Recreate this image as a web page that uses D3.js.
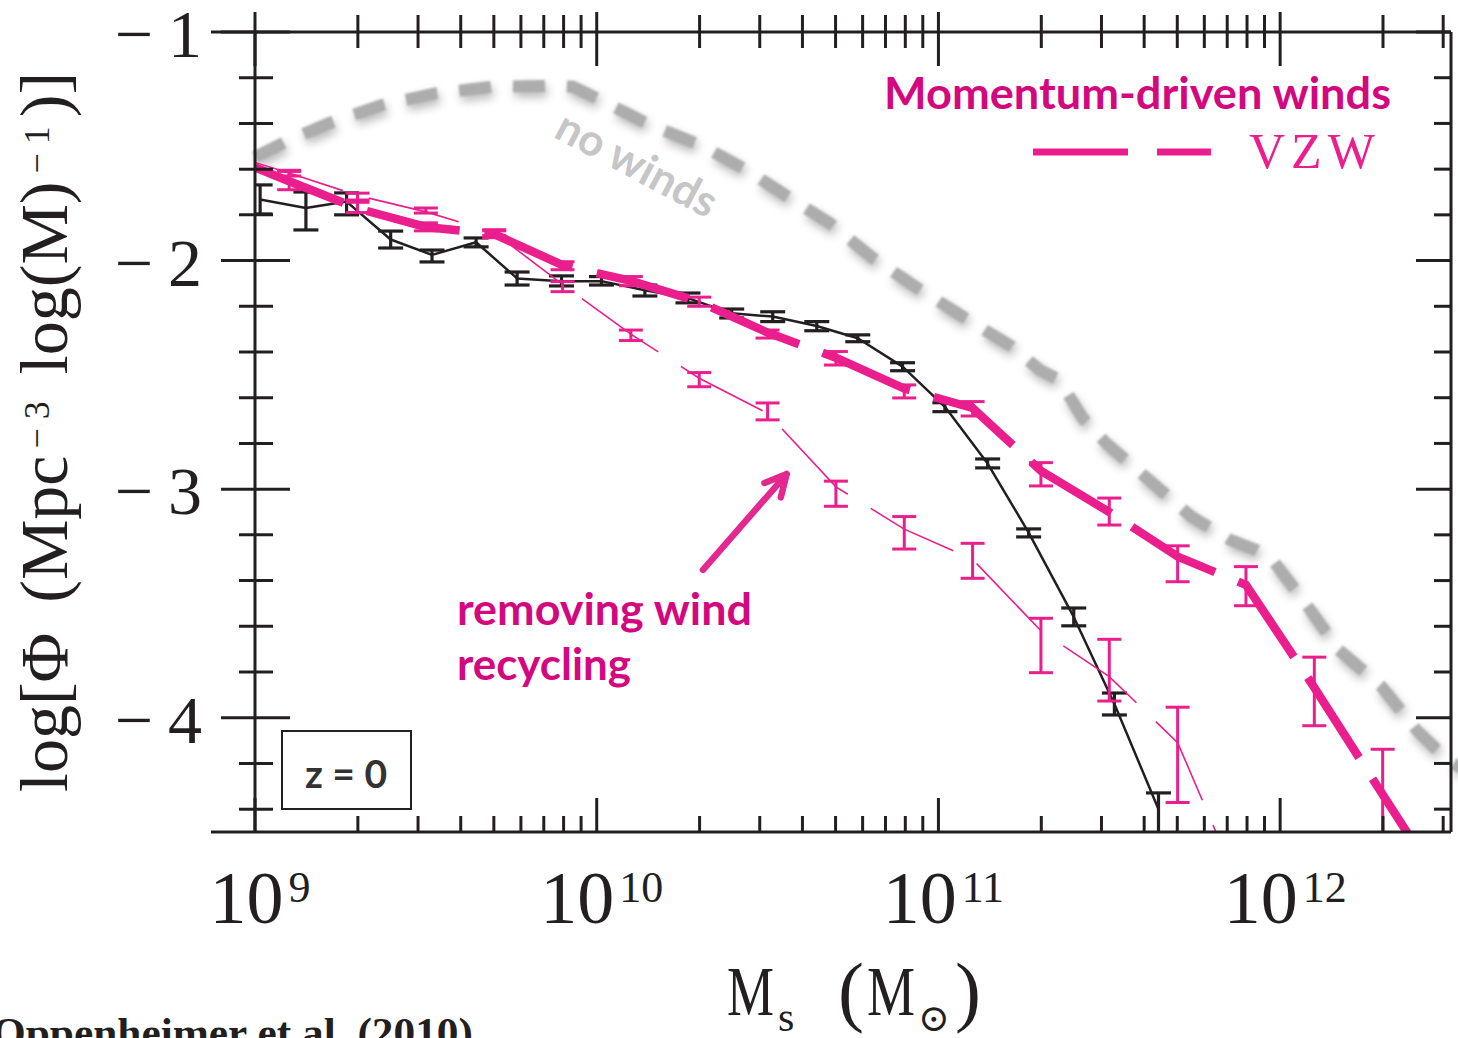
<!DOCTYPE html>
<html>
<head>
<meta charset="utf-8">
<script src="https://cdn.jsdelivr.net/npm/d3@7"></script>
<style>
  body { margin: 0; background: #ffffff; }
  svg { display: block; }
</style>
</head>
<body>
<svg id="chart" width="1458" height="1038"></svg>
<script>
// ---- Galaxy stellar mass function at z = 0 (log10 of stellar mass, log10 of phi) ----

// "no winds" run
const massNoWind = [9.0, 9.102, 9.219, 9.374, 9.532, 9.696, 9.863, 9.930, 10.009, 10.156, 10.302, 10.439,
  10.565, 10.682, 10.808, 10.925, 11.071, 11.215, 11.297, 11.354, 11.422, 11.490, 11.616, 11.740,
  11.853, 11.928, 11.978, 12.081, 12.171, 12.297, 12.399, 12.490, 12.53];
const phiNoWind = [-1.547, -1.472, -1.398, -1.319, -1.268, -1.239, -1.236, -1.239, -1.297, -1.407, -1.494, -1.604,
  -1.727, -1.836, -1.989, -2.107, -2.245, -2.377, -2.479, -2.523, -2.689, -2.798, -2.960, -3.120,
  -3.222, -3.266, -3.310, -3.514, -3.703, -3.864, -4.054, -4.185, -4.22];

// observed mass function (black)
const massObs = [9.015, 9.149, 9.268, 9.397, 9.518, 9.647, 9.767, 9.897, 10.014, 10.141, 10.267,
  10.395, 10.515, 10.644, 10.764, 10.895, 11.019, 11.144, 11.264, 11.396, 11.515, 11.644];
const phiObs = [-1.733, -1.770, -1.742, -1.908, -1.975, -1.920, -2.078, -2.090, -2.090, -2.130, -2.164,
  -2.231, -2.245, -2.286, -2.340, -2.464, -2.640, -2.888, -3.190, -3.559, -3.940, -4.400];
const phiObsHi = [-1.669, -1.700, -1.704, -1.871, -1.954, -1.901, -2.050, -2.067, -2.070, -2.107, -2.142,
  -2.212, -2.224, -2.267, -2.325, -2.447, -2.622, -2.868, -3.174, -3.520, -3.892, -4.329];
const phiObsLo = [-1.796, -1.866, -1.800, -1.945, -2.006, -1.940, -2.107, -2.111, -2.107, -2.155, -2.185,
  -2.251, -2.267, -2.307, -2.355, -2.482, -2.661, -2.907, -3.209, -3.598, -3.988, -6.0];

// momentum-driven winds (vzw)
const massVzw = [8.9, 9.1, 9.3, 9.5, 9.7, 9.9, 10.1, 10.3, 10.5, 10.7, 10.9, 11.1, 11.3, 11.5, 11.7,
  11.9, 12.1, 12.3, 12.5];
const phiVzw = [-1.532, -1.653, -1.772, -1.853, -1.884, -2.020, -2.089, -2.180, -2.315, -2.425, -2.560,
  -2.645, -2.920, -3.100, -3.295, -3.419, -3.868, -4.336, -4.800];
const phiVzwHi = [null, -1.610, -1.745, -1.835, -1.870, -2.005, -2.070, -2.160, -2.304, -2.398, -2.544,
  -2.617, -2.884, -3.039, -3.248, -3.339, -3.735, -4.138, null];
const phiVzwLo = [null, -1.690, -1.790, -1.870, -1.900, -2.040, -2.110, -2.200, -2.339, -2.457, -2.601,
  -2.680, -2.986, -3.157, -3.405, -3.510, -4.035, -6.0, null];

// vzw without wind recycling
const massNoRecyc = [8.9, 9.1, 9.3, 9.5, 9.7, 9.9, 10.1, 10.3, 10.5, 10.7, 10.9, 11.1, 11.3, 11.5, 11.7, 11.9];
const phiNoRecyc = [-1.525, -1.617, -1.715, -1.787, -1.877, -2.105, -2.322, -2.515, -2.668, -2.990, -3.175,
  -3.307, -3.620, -3.820, -4.109, -4.806];
const phiNoRecycHi = [null, -1.605, -1.705, -1.770, -1.865, -2.092, -2.304, -2.490, -2.623, -2.965, -3.120,
  -3.237, -3.565, -3.657, -3.954, null];
const phiNoRecycLo = [null, -1.630, -1.735, -1.792, -1.890, -2.136, -2.350, -2.552, -2.697, -3.075, -3.262,
  -3.390, -3.803, -3.927, -4.371, null];

// axis ticks
const xMajorTicks = [9, 10, 11, 12];
const xTickExponents = ["9", "10", "11", "12"];
const xMinorMantissas = [2, 3, 4, 5, 6, 7, 8, 9];
const yMajorTicks = [-1, -2, -3, -4];
const yTickLabels = ["1", "2", "3", "4"];
const yMinorTicks = [-1.2, -1.4, -1.6, -1.8, -2.2, -2.4, -2.6, -2.8, -3.2, -3.4, -3.6, -3.8, -4.2, -4.4];

// annotation anchors (data coordinates)
const arrowTail = [10.311, -3.353];
const arrowTip = [10.556, -2.934];

// ---- drawing ----
const svg = d3.select("#chart");
const ink = "#231f20";
const pink = "#ea1e8d";
const pinkText = "#d4087e";

const x = d3.scaleLinear().domain([9, 12.5]).range([255, 1451]);
const y = d3.scaleLinear().domain([-1, -4.5]).range([32, 832]);

const defs = svg.append("defs");
defs.append("clipPath").attr("id", "plotClip")
  .append("rect")
  .attr("x", x(9)).attr("y", y(-1))
  .attr("width", x(12.5) - x(9)).attr("height", y(-4.5) - y(-1));

// soft halo for the no-wind curve
const soft = defs.append("filter").attr("id", "soft")
  .attr("filterUnits", "userSpaceOnUse")
  .attr("x", 0).attr("y", 0).attr("width", 1458).attr("height", 1038);
soft.append("feGaussianBlur").attr("in", "SourceGraphic").attr("stdDeviation", 5).attr("result", "blur");
soft.append("feOffset").attr("in", "blur").attr("dx", 2).attr("dy", 5).attr("result", "off");
soft.append("feComponentTransfer").attr("in", "off").attr("result", "shadow")
  .append("feFuncA").attr("type", "linear").attr("slope", 0.85);
soft.append("feGaussianBlur").attr("in", "SourceGraphic").attr("stdDeviation", 0.9).attr("result", "core");
const merge = soft.append("feMerge");
merge.append("feMergeNode").attr("in", "shadow");
merge.append("feMergeNode").attr("in", "core");

const line = d3.line().x(d => x(d[0])).y(d => y(d[1]));
const pairs = (xs, ys) => xs.map((m, i) => [m, ys[i]]);

// no-wind curve
svg.append("path")
  .datum(pairs(massNoWind, phiNoWind))
  .attr("d", line)
  .attr("fill", "none")
  .attr("stroke", "#adadad")
  .attr("stroke-width", 12)
  .attr("stroke-dasharray", "32,22")
  .attr("filter", "url(#soft)");

svg.append("text")
  .attr("transform", "translate(636,166) rotate(28)")
  .attr("text-anchor", "middle")
  .attr("dy", "0.3em")
  .attr("font-family", "Lato")
  .attr("font-weight", "bold")
  .attr("font-size", 44)
  .attr("fill", "#c6c6c6")
  .text("no winds");

const plot = svg.append("g").attr("clip-path", "url(#plotClip)");

function errorBars(g, xs, hi, lo, color, width, capHalf) {
  const gg = g.append("g").attr("stroke", color).attr("stroke-width", width);
  xs.forEach((m, i) => {
    if (hi[i] == null || lo[i] == null) return;
    const px = x(m), y1 = y(hi[i]), y2 = y(lo[i]);
    gg.append("line").attr("x1", px).attr("x2", px).attr("y1", y1).attr("y2", y2);
    gg.append("line").attr("x1", px - capHalf).attr("x2", px + capHalf).attr("y1", y1).attr("y2", y1);
    gg.append("line").attr("x1", px - capHalf).attr("x2", px + capHalf).attr("y1", y2).attr("y2", y2);
  });
}

// observed
plot.append("path")
  .datum(pairs(massObs, phiObs))
  .attr("d", line)
  .attr("fill", "none")
  .attr("stroke", ink)
  .attr("stroke-width", 2.5)
  .attr("stroke-linejoin", "round");
errorBars(plot, massObs, phiObsHi, phiObsLo, ink, 3.2, 12.5);

// no recycling
plot.append("path")
  .datum(pairs(massNoRecyc, phiNoRecyc))
  .attr("d", line)
  .attr("fill", "none")
  .attr("stroke", pink)
  .attr("stroke-width", 1.6)
  .attr("stroke-dasharray", "93,27")
  .attr("stroke-dashoffset", 85);
errorBars(plot, massNoRecyc, phiNoRecycHi, phiNoRecycLo, pink, 3, 12);

// vzw
plot.append("path")
  .datum(pairs(massVzw, phiVzw))
  .attr("d", line)
  .attr("fill", "none")
  .attr("stroke", pink)
  .attr("stroke-width", 8.5)
  .attr("stroke-dasharray", "95,25")
  .attr("stroke-dashoffset", 83);
errorBars(plot, massVzw, phiVzwHi, phiVzwLo, pink, 3, 12);

// ---- frame and ticks ----
const axes = svg.append("g").attr("stroke", ink).attr("stroke-width", 3).attr("fill", "none");
axes.append("line").attr("x1", 211).attr("x2", x(12.5)).attr("y1", y(-1)).attr("y2", y(-1));
axes.append("line").attr("x1", 211).attr("x2", x(12.5)).attr("y1", y(-4.5)).attr("y2", y(-4.5));
axes.append("line").attr("x1", x(9)).attr("x2", x(9)).attr("y1", y(-1)).attr("y2", y(-4.5));
axes.append("line").attr("x1", x(12.5)).attr("x2", x(12.5)).attr("y1", y(-1)).attr("y2", y(-4.5));

const xMinor = [];
xMajorTicks.forEach(d => xMinorMantissas.forEach(k => {
  const v = d + Math.log10(k);
  if (v < 12.5) xMinor.push(v);
}));

const top0 = y(-1), bot0 = y(-4.5);
axes.selectAll(".xmt").data(xMinor).join("line")
  .attr("x1", d => x(d)).attr("x2", d => x(d)).attr("y1", top0 - 17).attr("y2", top0 + 16);
axes.selectAll(".xMt").data(xMajorTicks).join("line")
  .attr("x1", d => x(d)).attr("x2", d => x(d)).attr("y1", top0 - 20).attr("y2", top0 + 34);
axes.selectAll(".xmb").data(xMinor).join("line")
  .attr("x1", d => x(d)).attr("x2", d => x(d)).attr("y1", bot0 - 16).attr("y2", bot0);
axes.selectAll(".xMb").data(xMajorTicks).join("line")
  .attr("x1", d => x(d)).attr("x2", d => x(d)).attr("y1", bot0 - 34).attr("y2", bot0);

const left0 = x(9), right0 = x(12.5);
axes.selectAll(".yml").data(yMinorTicks).join("line")
  .attr("x1", left0 - 16).attr("x2", left0 + 18).attr("y1", d => y(d)).attr("y2", d => y(d));
axes.selectAll(".yMl").data(yMajorTicks).join("line")
  .attr("x1", left0 - 34).attr("x2", left0 + 35).attr("y1", d => y(d)).attr("y2", d => y(d));
axes.selectAll(".ymr").data(yMinorTicks).join("line")
  .attr("x1", right0 - 17).attr("x2", right0).attr("y1", d => y(d)).attr("y2", d => y(d));
axes.selectAll(".yMr").data(yMajorTicks).join("line")
  .attr("x1", right0 - 35).attr("x2", right0).attr("y1", d => y(d)).attr("y2", d => y(d));

// ---- tick labels ----
const serif = "'Liberation Serif', 'DejaVu Serif', serif";
const yl = svg.append("g").attr("font-family", serif).attr("fill", ink).attr("font-size", 68);
yMajorTicks.forEach((v, i) => {
  const t = yl.append("text").attr("y", y(v) + 25);
  t.append("tspan").attr("x", 134).attr("text-anchor", "middle").text("\u2212");
  t.append("tspan").attr("x", 185).attr("text-anchor", "middle").text(yTickLabels[i]);
});

const xl = svg.append("g").attr("font-family", serif).attr("fill", ink).attr("text-anchor", "middle");
xMajorTicks.forEach((v, i) => {
  const t = xl.append("text").attr("x", x(v) + 5).attr("y", 923).attr("font-size", 74);
  t.append("tspan").text("10");
  t.append("tspan").attr("font-size", 44).attr("dx", 5).attr("dy", -21).text(xTickExponents[i]);
});

// ---- axis titles ----
const xt = svg.append("text").attr("font-family", serif).attr("fill", ink).attr("y", 1015);
xt.append("tspan").attr("x", 727).attr("y", 1015).attr("font-size", 70)
  .attr("textLength", 47).attr("lengthAdjust", "spacingAndGlyphs").text("M");
xt.append("tspan").attr("x", 778).attr("y", 1031).attr("font-size", 42).text("s");
xt.append("tspan").attr("x", 838).attr("y", 1017).attr("font-size", 78).text("(");
xt.append("tspan").attr("x", 867).attr("y", 1015).attr("font-size", 70)
  .attr("textLength", 48).attr("lengthAdjust", "spacingAndGlyphs").text("M");
xt.append("tspan").attr("x", 918).attr("y", 1031).attr("font-size", 38).text("\u2299");
xt.append("tspan").attr("x", 955).attr("y", 1017).attr("font-size", 78).text(")");

const yt = svg.append("text").attr("font-family", serif).attr("fill", ink)
  .attr("transform", "translate(67,792) rotate(-90)").attr("font-size", 68);
yt.append("tspan").text("log[\u03A6");
yt.append("tspan").attr("dx", 30).text("(Mpc");
yt.append("tspan").attr("font-size", 36).attr("dy", -18).attr("dx", 7).text("\u2212 3");
yt.append("tspan").attr("dy", 18).attr("dx", 27).text("log(M)");
yt.append("tspan").attr("font-size", 36).attr("dy", -18).attr("dx", 8).text("\u2212 1");
yt.append("tspan").attr("dy", 18).attr("dx", 9).text(")]");

// ---- legend ----
svg.append("text")
  .attr("x", 884).attr("y", 109)
  .attr("textLength", 507).attr("lengthAdjust", "spacingAndGlyphs")
  .attr("font-family", "Lato").attr("font-weight", "bold").attr("font-size", 43)
  .attr("fill", pinkText)
  .text("Momentum-driven winds");

svg.append("line")
  .attr("x1", 1033).attr("x2", 1211).attr("y1", 152).attr("y2", 152)
  .attr("stroke", pink).attr("stroke-width", 7).attr("stroke-dasharray", "95,29");

svg.append("text")
  .attr("x", 1249).attr("y", 168)
  .attr("font-family", serif).attr("font-size", 50).attr("letter-spacing", 6)
  .attr("fill", pink)
  .text("VZW");

// ---- annotations ----
const ann = svg.append("text").attr("font-family", "Lato").attr("font-weight", "bold")
  .attr("font-size", 44).attr("fill", pinkText);
ann.append("tspan").attr("x", 457).attr("y", 625)
  .attr("textLength", 295).attr("lengthAdjust", "spacingAndGlyphs").text("removing wind");
ann.append("tspan").attr("x", 457).attr("y", 680)
  .attr("textLength", 174).attr("lengthAdjust", "spacingAndGlyphs").text("recycling");

const tx = x(arrowTail[0]), ty = y(arrowTail[1]), hx = x(arrowTip[0]), hy = y(arrowTip[1]);
const ang = Math.atan2(ty - hy, tx - hx);
const wing = 24, spread = 27 * Math.PI / 180;
const w1 = [hx + wing * Math.cos(ang - spread), hy + wing * Math.sin(ang - spread)];
const w2 = [hx + wing * Math.cos(ang + spread), hy + wing * Math.sin(ang + spread)];
svg.append("path")
  .attr("d", `M${tx},${ty}L${hx},${hy}M${w1[0]},${w1[1]}L${hx},${hy}L${w2[0]},${w2[1]}`)
  .attr("fill", "none").attr("stroke", "#e3288f").attr("stroke-width", 6.5)
  .attr("stroke-linecap", "round").attr("stroke-linejoin", "round");

// redshift box
svg.append("rect").attr("x", 282).attr("y", 731).attr("width", 129).attr("height", 78)
  .attr("fill", "#ffffff").attr("stroke", ink).attr("stroke-width", 2);
svg.append("text").attr("x", 346).attr("y", 788).attr("text-anchor", "middle")
  .attr("font-family", "Lato").attr("font-weight", "bold").attr("font-size", 39)
  .attr("fill", "#333333").text("z = 0");

// citation
svg.append("text").attr("x", -8).attr("y", 1047)
  .attr("font-family", serif).attr("font-weight", "bold").attr("font-size", 42)
  .attr("textLength", 481).attr("lengthAdjust", "spacingAndGlyphs")
  .attr("fill", ink).text("Oppenheimer et al. (2010)");
</script>
</body>
</html>
